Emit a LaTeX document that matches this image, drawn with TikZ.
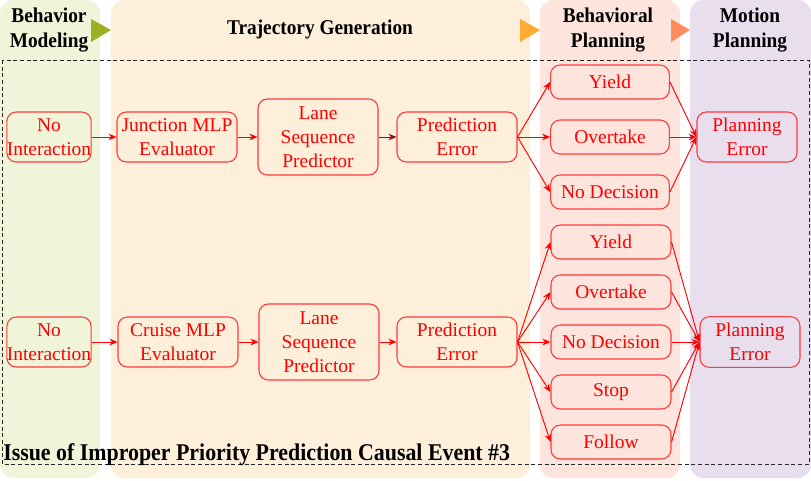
\documentclass[tikz,border=0pt]{standalone}
\usepackage{fontspec}
\setmainfont{Liberation Serif}
\newfontfamily\hdfont[FakeStretch=0.92]{Liberation Serif}
\newfontfamily\ftfont[FakeStretch=0.912]{Liberation Serif}
\usetikzlibrary{arrows.meta}
\definecolor{cgreen}{HTML}{F0F4D8}
\definecolor{corange}{HTML}{FDEFD9}
\definecolor{cpink}{HTML}{FDE4DC}
\definecolor{cpurple}{HTML}{E8DEEE}
\definecolor{tgreen}{HTML}{9BB022}
\definecolor{torange}{HTML}{FFAA33}
\definecolor{tsalmon}{HTML}{FF8A5C}
\definecolor{bred}{HTML}{FF3B3B}
\definecolor{dred}{HTML}{8B1010}
\tikzset{
  col/.style={fill=#1, draw=none, rounded corners=10},
  tri/.style={fill=#1, draw=none},
  box/.style={draw=bred, line width=0.8pt, rounded corners=7, text=red, align=center,
    font=\fontsize{14.6pt}{18pt}\selectfont, inner sep=0pt},
  hdr/.style={align=center, font=\hdfont\bfseries\fontsize{15.75pt}{18.5pt}\selectfont},
  arr/.style={draw=red, line width=0.7pt, -{Stealth[length=6pt,width=5pt]}},
}
\begin{document}
\begin{tikzpicture}[x=0.75pt,y=-0.75pt]
\useasboundingbox (0,0) rectangle (811,480);
% columns
\fill[col=cgreen] (0,0) rectangle (100,478);
\fill[col=corange] (111,0) rectangle (530,478);
\fill[col=cpink] (540,0) rectangle (680,478);
\fill[col=cpurple] (690,0) rectangle (811,478);
% triangles
\fill[tri=tgreen] (91,19) -- (111,30) -- (91,42) -- cycle;
\fill[tri=torange] (520,19) -- (540,30) -- (520,42) -- cycle;
\fill[tri=tsalmon] (671,19) -- (690,30) -- (671,42) -- cycle;
% headers
\node[hdr] (hbm) at (49,30) {Behavior\\Modeling};
\node[hdr] (htg) at (320,29) {Trajectory Generation};
\node[hdr] (hbp) at (608,30) {Behavioral\\Planning};
\node[hdr] (hmp) at (750,30) {Motion\\Planning};
% dashed frame
\draw[densely dashed, line width=0.6pt, black!85] (2,60) rectangle (809,464);
\node[anchor=base west, inner sep=0pt, font=\ftfont\bfseries\fontsize{18pt}{20pt}\selectfont] (lbl) at (3,460) {Issue of Improper Priority Prediction Causal Event \#3};
% top row
\node[box, minimum width=61.5pt, minimum height=37.5pt] (ni1) at (49,137) {No\\Interaction};
\node[box, minimum width=90pt, minimum height=37.5pt] (jm) at (177,137) {Junction MLP\\Evaluator};
\node[box, minimum width=90pt, minimum height=57pt] (ls1) at (318,137) {Lane\\Sequence\\Predictor};
\node[box, minimum width=90pt, minimum height=37.5pt] (pe1) at (457,137) {Prediction\\Error};
\node[box, minimum width=89pt, minimum height=25.5pt] (y1) at (610,82) {Yield};
\node[box, minimum width=89pt, minimum height=25.5pt] (o1) at (610,137) {Overtake};
\node[box, minimum width=89pt, minimum height=25.5pt] (nd1) at (610,192) {No Decision};
\node[box, minimum width=75pt, minimum height=37.5pt] (pl1) at (747,137) {Planning\\Error};
\draw[arr] (ni1) -- (jm);
\draw[arr] (jm) -- (ls1);
\draw[arr, draw=dred] (ls1) -- (pe1);
\foreach \n in {y1,o1,nd1}{
  \draw[arr] (pe1.east) -- (\n.west);
  \draw[arr] (\n.east) -- (pl1.west);
}
% bottom row
\node[box, minimum width=61.5pt, minimum height=37.5pt] (ni2) at (49,342) {No\\Interaction};
\node[box, minimum width=90pt, minimum height=37.5pt] (cm) at (178,342) {Cruise MLP\\Evaluator};
\node[box, minimum width=90pt, minimum height=57pt] (ls2) at (319,342) {Lane\\Sequence\\Predictor};
\node[box, minimum width=90pt, minimum height=37.5pt] (pe2) at (457,342) {Prediction\\Error};
\node[box, minimum width=90pt, minimum height=25.5pt] (y2) at (611,242) {Yield};
\node[box, minimum width=90pt, minimum height=25.5pt] (o2) at (611,292) {Overtake};
\node[box, minimum width=90pt, minimum height=25.5pt] (nd2) at (611,342) {No Decision};
\node[box, minimum width=90pt, minimum height=25.5pt] (st2) at (611,392) {Stop};
\node[box, minimum width=90pt, minimum height=25.5pt] (fo2) at (611,442) {Follow};
\node[box, minimum width=75pt, minimum height=38pt] (pl2) at (750,342) {Planning\\Error};
\draw[arr] (ni2) -- (cm);
\draw[arr] (cm) -- (ls2);
\draw[arr] (ls2) -- (pe2);
\foreach \n in {y2,o2,nd2,st2,fo2}{
  \draw[arr] (pe2.east) -- (\n.west);
  \draw[arr] (\n.east) -- (pl2.west);
}
\end{tikzpicture}
\end{document}
